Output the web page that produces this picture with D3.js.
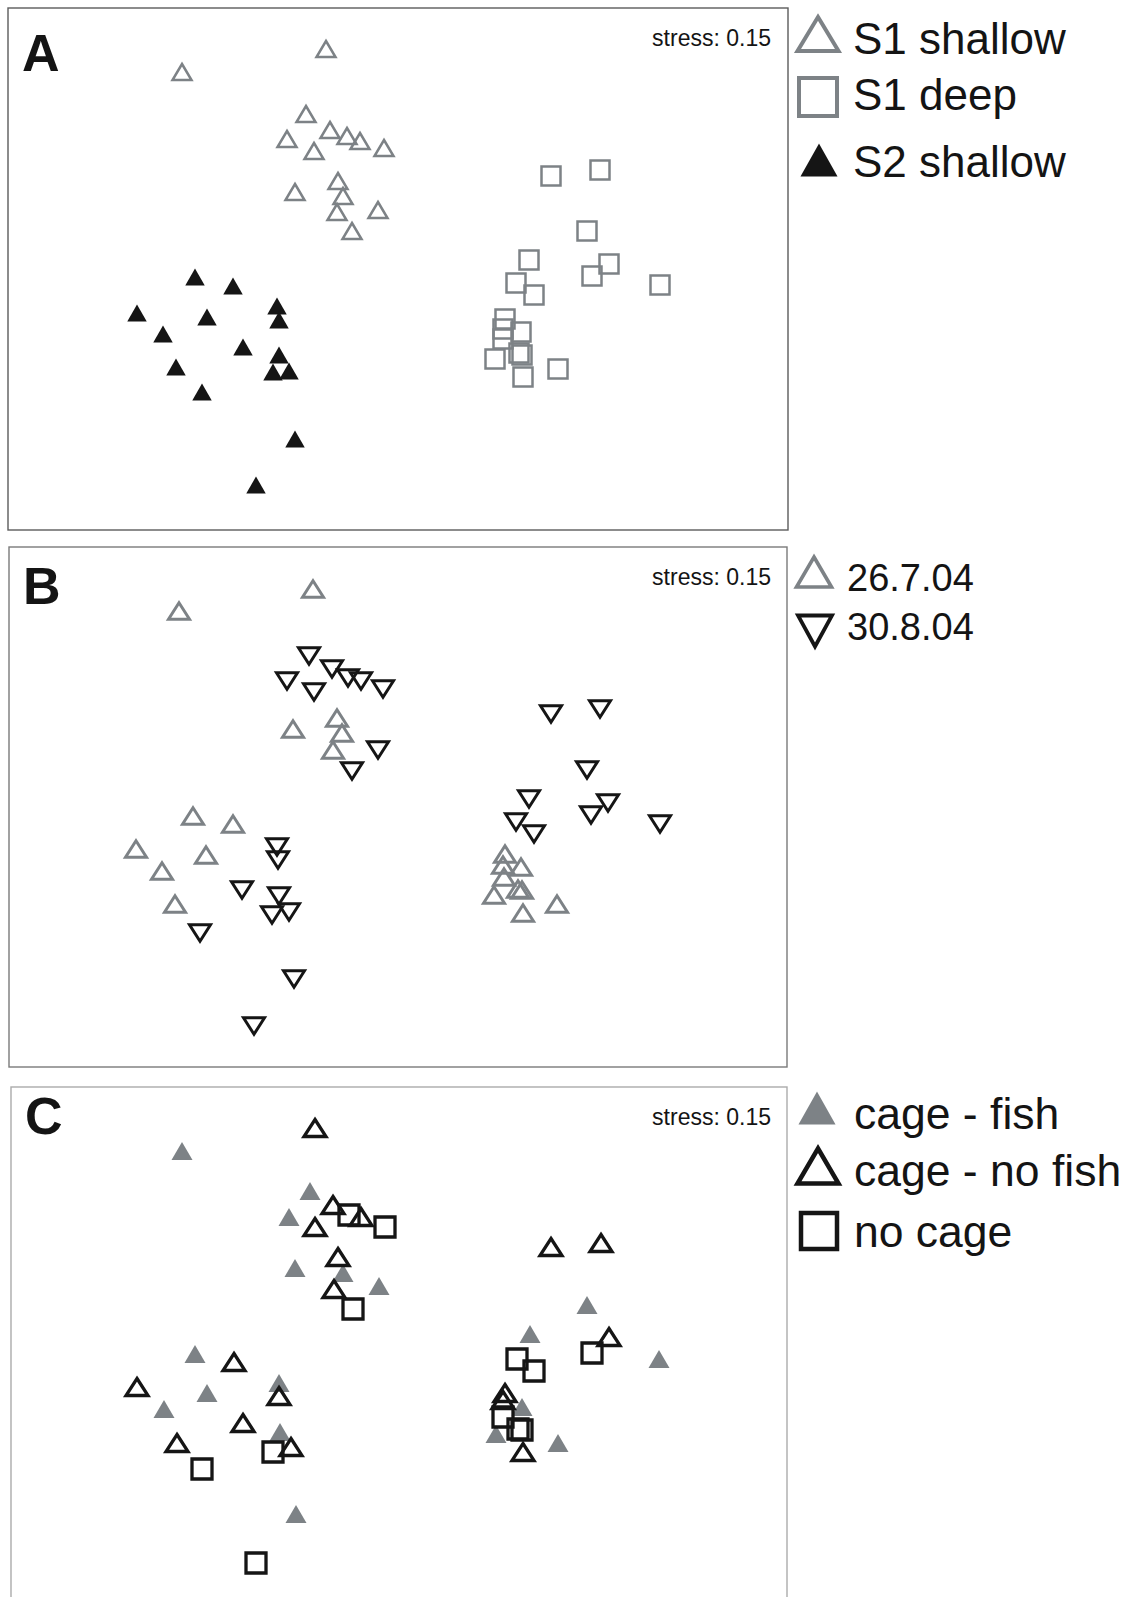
<!DOCTYPE html>
<html>
<head>
<meta charset="utf-8">
<script src="https://cdn.jsdelivr.net/npm/d3@7"></script>
<style>
  body { margin: 0; background: #fff; }
  text { font-family: "Liberation Sans", Arial, sans-serif; fill: #141414; }
</style>
</head>
<body>
<svg id="chart" width="1133" height="1597"></svg>
<script>
// nMDS ordination (same samples, three codings) - coordinates
var stressValue = "stress: 0.15";

// panel A : site / depth
var s1Shallow = [[-2.18,1.96],[-0.74,2.19],[-0.94,1.54],[-1.13,1.29],[-0.70,1.38],[-0.86,1.17],[-0.53,1.32],[-0.40,1.27],[-0.16,1.20],[-1.05,0.76],[-0.62,0.87],[-0.57,0.72],[-0.63,0.56],[-0.22,0.58],[-0.48,0.37]];
var s1Deep = [[1.51,0.92],[2.00,0.98],[1.87,0.37],[1.29,0.08],[2.09,0.04],[1.92,-0.08],[1.16,-0.15],[1.34,-0.27],[2.60,-0.17],[1.05,-0.51],[1.03,-0.61],[1.21,-0.64],[1.03,-0.71],[0.95,-0.91],[1.19,-0.85],[1.22,-0.87],[1.23,-1.09],[1.58,-1.01]];
var s2Shallow = [[-2.05,-0.09],[-1.67,-0.18],[-2.63,-0.45],[-1.93,-0.49],[-1.23,-0.38],[-1.21,-0.52],[-2.37,-0.66],[-1.57,-0.79],[-1.21,-0.87],[-2.24,-0.99],[-1.27,-1.04],[-1.11,-1.03],[-1.98,-1.24],[-1.05,-1.71],[-1.44,-2.17]];

// panel B : sampling date
var date1X = [-2.21,-0.87,-1.07,-0.63,-0.58,-0.67,-2.07,-1.67,-2.64,-1.94,-2.38,-2.25,1.05,1.03,1.21,1.04,0.94,1.18,1.22,1.23,1.57];
var date1Y = [1.96,2.18,0.78,0.89,0.74,0.57,-0.09,-0.17,-0.42,-0.48,-0.64,-0.97,-0.47,-0.58,-0.60,-0.70,-0.88,-0.82,-0.83,-1.06,-0.97];
var date2X = [-0.91,-0.68,-0.52,-0.39,-1.13,-0.86,-0.17,-0.22,-0.48,-1.23,-1.22,-1.58,-1.21,-1.28,-1.11,-2.00,-1.06,-1.46,1.51,2.00,1.87,1.29,2.08,1.91,1.16,1.34,2.60];
var date2Y = [1.51,1.38,1.29,1.26,1.26,1.15,1.18,0.57,0.36,-0.40,-0.53,-0.83,-0.89,-1.08,-1.05,-1.26,-1.72,-2.19,0.93,0.98,0.37,0.08,0.04,-0.08,-0.15,-0.27,-0.17];

// panel C : cage treatment
var cageFish = [[-2.18,1.96],[-0.90,1.56],[-1.11,1.30],[-1.05,0.79],[-0.57,0.74],[-0.21,0.61],[-2.05,-0.07],[-1.93,-0.46],[-2.36,-0.62],[-1.21,-0.36],[-1.20,-0.85],[-1.04,-1.67],[1.87,0.42],[1.30,0.13],[2.59,-0.12],[1.22,-0.60],[0.96,-0.87],[1.58,-0.96]];
var cageNoFish = [[-0.85,2.19],[-0.67,1.42],[-0.39,1.30],[-0.85,1.20],[-0.62,0.90],[-0.66,0.58],[-1.66,-0.15],[-2.63,-0.40],[-1.21,-0.49],[-1.57,-0.76],[-2.23,-0.96],[-1.09,-1.00],[1.51,1.00],[2.01,1.04],[2.09,0.10],[1.05,-0.46],[1.03,-0.53],[1.23,-1.05]];
var noCage = [[-0.51,1.32],[-0.15,1.20],[-0.47,0.38],[-1.27,-1.05],[-1.98,-1.22],[-1.44,-2.16],[1.17,-0.12],[1.34,-0.24],[1.92,-0.06],[1.03,-0.70],[1.18,-0.82],[1.22,-0.83]];

var legendA = ["S1 shallow", "S1 deep", "S2 shallow"];
var legendB = ["26.7.04", "30.8.04"];
var legendC = ["cage - fish", "cage - no fish", "no cage"];

var GREY = "#7d8286", BLACK = "#151515";

var svg = d3.select("#chart");

var x = d3.scaleLinear().domain([-4, 4]).range([0, 800]);
function yScale(top) {
  return d3.scaleLinear().domain([-2.6, 2.6]).range([top + 520, top]);
}

// marker paths centred on (0,0)
function tri(w, h, down) {
  var s = down ? -1 : 1;
  return "M0," + (-s * h / 2) + "L" + (w / 2) + "," + (s * h / 2) + "L" + (-w / 2) + "," + (s * h / 2) + "Z";
}
function sq(a) {
  return "M" + (-a / 2) + "," + (-a / 2) + "h" + a + "v" + a + "h" + (-a) + "Z";
}

function drawPoints(g, pts, y, path, fill, stroke, sw) {
  g.selectAll(null)
    .data(pts)
    .enter()
    .append("path")
    .attr("transform", function (d) { return "translate(" + x(d[0]) + "," + y(d[1]) + ")"; })
    .attr("d", path)
    .attr("fill", fill)
    .attr("stroke", stroke)
    .attr("stroke-width", sw);
}

function panel(p) {
  var g = svg.append("g");
  g.append("rect")
    .attr("x", p.left).attr("y", p.top)
    .attr("width", p.right - p.left).attr("height", p.bottom - p.top)
    .attr("fill", "none").attr("stroke", p.frame).attr("stroke-width", 1.4);
  g.append("text")
    .attr("x", p.left + 14).attr("y", p.top + p.letterDy)
    .attr("font-size", 52).attr("font-weight", "bold")
    .text(p.letter);
  g.append("text")
    .attr("x", 771).attr("y", p.top + 38)
    .attr("text-anchor", "end").attr("font-size", 23)
    .text(stressValue);
  return g;
}

// ---- A
var yA = yScale(8);
var gA = panel({ left: 8, right: 788, top: 8, bottom: 530, frame: "#5c5c5c", letter: "A", letterDy: 63 });
drawPoints(gA, s1Deep, yA, sq(19), "none", GREY, 2.5);
drawPoints(gA, s1Shallow, yA, tri(19, 16), "none", GREY, 2.5);
drawPoints(gA, s2Shallow, yA, tri(19.5, 17), BLACK, "none", 0);

var legA = svg.append("g");
legA.append("path").attr("transform", "translate(818,34)").attr("d", tri(41, 34)).attr("fill", "none").attr("stroke", GREY).attr("stroke-width", 4);
legA.append("path").attr("transform", "translate(818,97)").attr("d", sq(38)).attr("fill", "none").attr("stroke", GREY).attr("stroke-width", 4);
legA.append("path").attr("transform", "translate(819,160)").attr("d", tri(37, 33)).attr("fill", BLACK);
legA.selectAll("text.l")
  .data(legendA)
  .enter()
  .append("text")
  .attr("x", 853)
  .attr("y", function (d, i) { return [54, 110, 177][i]; })
  .attr("font-size", 44)
  .text(function (d) { return d; });

// ---- B
var yB = yScale(547);
var gB = panel({ left: 9, right: 787, top: 547, bottom: 1067, frame: "#7a7a7a", letter: "B", letterDy: 57 });
drawPoints(gB, date1X.map(function (v, i) { return [v, date1Y[i]]; }), yB, tri(21, 16.5), "none", GREY, 3);
drawPoints(gB, date2X.map(function (v, i) { return [v, date2Y[i]]; }), yB, tri(21, 16.5, true), "none", BLACK, 3);

var legB = svg.append("g");
legB.append("path").attr("transform", "translate(814,572)").attr("d", tri(35, 30)).attr("fill", "none").attr("stroke", GREY).attr("stroke-width", 3.6);
legB.append("path").attr("transform", "translate(815,631)").attr("d", tri(34, 31, true)).attr("fill", "none").attr("stroke", BLACK).attr("stroke-width", 3.8);
legB.selectAll("text.l")
  .data(legendB)
  .enter()
  .append("text")
  .attr("x", 847)
  .attr("y", function (d, i) { return [591, 639.5][i]; })
  .attr("font-size", 38)
  .text(function (d) { return d; });

// ---- C
var yC = yScale(1087);
var gC = panel({ left: 11, right: 787, top: 1087, bottom: 1610, frame: "#ababab", letter: "C", letterDy: 47 });
drawPoints(gC, cageFish, yC, tri(21, 18), GREY, "none", 0);
drawPoints(gC, noCage, yC, sq(20), "none", BLACK, 3.3);
drawPoints(gC, cageNoFish, yC, tri(22, 17), "none", BLACK, 3.3);

var legC = svg.append("g");
legC.append("path").attr("transform", "translate(817,1108)").attr("d", tri(37, 33)).attr("fill", GREY);
legC.append("path").attr("transform", "translate(818,1166)").attr("d", tri(41, 35)).attr("fill", "none").attr("stroke", BLACK).attr("stroke-width", 4.5);
legC.append("path").attr("transform", "translate(819,1231)").attr("d", sq(36)).attr("fill", "none").attr("stroke", BLACK).attr("stroke-width", 4.5);
legC.selectAll("text.l")
  .data(legendC)
  .enter()
  .append("text")
  .attr("x", 854)
  .attr("y", function (d, i) { return [1129, 1186, 1247][i]; })
  .attr("font-size", 44.5)
  .text(function (d) { return d; });
</script>
</body>
</html>
